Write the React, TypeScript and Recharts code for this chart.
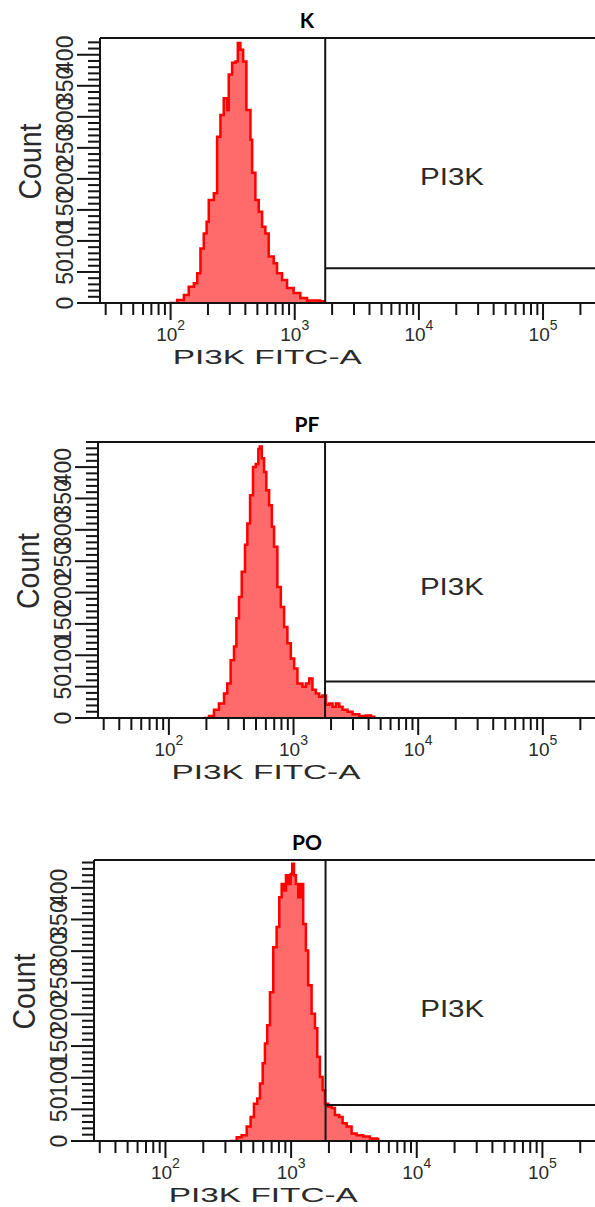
import { ComposedChart, Area, XAxis, YAxis, ReferenceLine, ReferenceArea } from "recharts";

const FONT = '"Liberation Sans", Arial, sans-serif';
const INK = "#141414";
const TEXT = "#2a2a2a";

const X_MIN = 27;
const X_MAX = 262144;
const X_TICKS = [
  30, 40, 50, 60, 70, 80, 90,
  100, 200, 300, 400, 500, 600, 700, 800, 900,
  1000, 2000, 3000, 4000, 5000, 6000, 7000, 8000, 9000,
  10000, 20000, 30000, 40000, 50000, 60000, 70000, 80000, 90000,
  100000, 200000,
];
const X_DECADES = [100, 1000, 10000, 100000];
const X_EXP = ["2", "3", "4", "5"];

const Y_TICKS = [
  0, 10, 20, 30, 40, 50, 60, 70, 80, 90, 100, 110, 120, 130, 140, 150, 160, 170, 180, 190, 200,
  210, 220, 230, 240, 250, 260, 270, 280, 290, 300, 310, 320, 330, 340, 350, 360, 370, 380, 390,
  400, 410, 420, 430, 440,
];
const Y_LABELS = [0, 50, 100, 150, 200, 250, 300, 350, 400];

const TITLES = ["K", "PF", "PO"];
const GATE_NAME = "PI3K";
const X_NAME = "PI3K FITC-A";
const Y_NAME = "Count";

// gate thresholds (FITC) and horizontal gate level (count)
const GATES = [1760, 1790, 1880];
const GATE_COUNTS = [56, 58, 57];
const Y_MAX = [427, 440, 444];

// K
const K_FITC = [97, 113, 128, 140, 154, 164, 174, 185, 195, 203, 223, 237, 252, 268, 286, 294, 313, 333, 348, 365, 384, 408, 440, 454, 482, 513, 546, 580, 617, 677, 720, 791, 867, 980, 1109, 1256, 1419, 1606, 1708];
const K_COUNT = [0, 5, 13, 26, 32, 48, 88, 112, 131, 166, 177, 268, 303, 330, 311, 368, 387, 389, 419, 408, 389, 311, 263, 210, 166, 147, 123, 112, 75, 64, 48, 37, 24, 16, 8, 4, 4, 3, 0];

// PF
const PF_FITC = [191, 210, 230, 252, 277, 294, 313, 333, 348, 365, 384, 408, 426, 448, 473, 498, 522, 536, 556, 580, 605, 637, 670, 698, 742, 791, 840, 893, 951, 1012, 1075, 1180, 1256, 1335, 1419, 1510, 1606, 1708, 1820, 1932, 2055, 2188, 2328, 2473, 2712, 2974, 3367, 3811, 4178, 4443];
const PF_COUNT = [0, 3, 13, 23, 39, 55, 92, 114, 159, 193, 233, 276, 310, 355, 400, 405, 429, 433, 414, 392, 363, 339, 305, 273, 209, 177, 145, 119, 95, 79, 55, 50, 55, 63, 45, 39, 34, 36, 21, 23, 18, 23, 18, 13, 10, 6, 3, 4, 2, 0];

// PO
const PO_FITC = [326, 369, 404, 443, 476, 506, 538, 565, 594, 619, 646, 679, 721, 767, 805, 841, 877, 910, 949, 992, 1021, 1054, 1092, 1140, 1191, 1248, 1311, 1368, 1456, 1548, 1615, 1695, 1782, 1859, 1974, 2100, 2232, 2415, 2570, 2767, 3030, 3321, 3750, 4239, 4791, 4932];
const PO_COUNT = [0, 6, 9, 23, 38, 59, 67, 91, 123, 154, 183, 235, 306, 338, 385, 406, 396, 420, 406, 422, 438, 420, 406, 385, 406, 343, 301, 246, 201, 178, 133, 101, 80, 59, 54, 52, 41, 38, 28, 23, 12, 9, 7, 4, 3, 0];

const SERIES = [
  { fitc: K_FITC, count: K_COUNT },
  { fitc: PF_FITC, count: PF_COUNT },
  { fitc: PO_FITC, count: PO_COUNT },
];

// plot box placement on the page
const LAYOUT = [
  { top: 38, left: 100, height: 265 },
  { top: 442, left: 98, height: 276 },
  { top: 860, left: 94, height: 281 },
];

const PAD = 10;
const AXIS_H = 66;

function XTick(props: any) {
  const { x, y, payload } = props;
  const i = X_DECADES.indexOf(payload.value);
  const major = i >= 0;
  return (
    <g>
      <line x1={x} x2={x} y1={y} y2={y + (major ? 17 : 12)} stroke={INK} strokeWidth={2} />
      {major && (
        <text x={x} y={y + 38} textAnchor="middle" fontFamily={FONT} fontSize={19} fill={TEXT}>
          10<tspan dy={-11} fontSize={14}>{X_EXP[i]}</tspan>
        </text>
      )}
    </g>
  );
}

function YTick(props: any) {
  const { x, y, payload } = props;
  const major = Y_LABELS.includes(payload.value);
  const tx = x - 27;
  return (
    <g>
      <line x1={x - (major ? 23 : 12)} x2={x} y1={y} y2={y} stroke={INK} strokeWidth={2} />
      {major && (
        <text x={tx} y={y} transform={`rotate(-90 ${tx} ${y})`} textAnchor="middle" fontFamily={FONT} fontSize={23} fill={TEXT}>
          {payload.value}
        </text>
      )}
    </g>
  );
}

function Histogram({ idx }: { idx: number }) {
  const { fitc, count } = SERIES[idx];
  const box = LAYOUT[idx];
  const yMax = Y_MAX[idx];
  const gate = GATES[idx];
  const gateCount = GATE_COUNTS[idx];
  const data = fitc.map((v, i) => ({ v, c: count[i] }));
  const ticks = Y_TICKS.filter((t) => t <= yMax);

  const xLabel = (p: any) => {
    const vb = p.viewBox;
    return (
      <text x={vb.x + vb.width * 0.338} y={vb.y + 61} textAnchor="middle" fontFamily={FONT} fontSize={21} fill={TEXT} textLength={189} lengthAdjust="spacingAndGlyphs">
        {X_NAME}
      </text>
    );
  };
  const yLabel = (p: any) => {
    const vb = p.viewBox;
    const tx = vb.x + vb.width - 59;
    const ty = vb.y + vb.height / 2 - 9;
    return (
      <text x={tx} y={ty} transform={`rotate(-90 ${tx} ${ty})`} textAnchor="middle" fontFamily={FONT} fontSize={31} fill={TEXT} textLength={76} lengthAdjust="spacingAndGlyphs">
        {Y_NAME}
      </text>
    );
  };
  const gateLabel = (p: any) => {
    const vb = p.viewBox;
    return (
      <text x={vb.x + vb.width * 0.47} y={vb.y + vb.height * 0.64} textAnchor="middle" fontFamily={FONT} fontSize={24} fill={TEXT} textLength={64} lengthAdjust="spacingAndGlyphs">
        {GATE_NAME}
      </text>
    );
  };

  return (
    <div style={{ position: "absolute", left: 0, top: box.top - PAD }}>
      <ComposedChart width={595} height={PAD + box.height + AXIS_H} data={data} margin={{ top: PAD, right: 0, bottom: 0, left: 0 }}>
        <XAxis
          dataKey="v"
          type="number"
          scale="log"
          domain={[X_MIN, X_MAX]}
          allowDataOverflow
          ticks={X_TICKS}
          interval={0}
          tickSize={0}
          tickMargin={0}
          tickLine={false}
          tick={<XTick />}
          height={AXIS_H}
          axisLine={{ stroke: INK, strokeWidth: 2 }}
          label={xLabel}
        />
        <YAxis
          type="number"
          domain={[0, yMax]}
          allowDataOverflow
          ticks={ticks}
          interval={0}
          tickSize={0}
          tickMargin={0}
          tickLine={false}
          tick={<YTick />}
          width={box.left}
          axisLine={{ stroke: INK, strokeWidth: 2 }}
          label={yLabel}
        />
        <Area type="stepAfter" dataKey="c" stroke="#ff0000" strokeWidth={2.5} fill="#ff6b6b" fillOpacity={1} dot={false} isAnimationActive={false} />
        <ReferenceLine y={yMax} stroke={INK} strokeWidth={2} />
        <ReferenceLine x={gate} stroke={INK} strokeWidth={2} />
        <ReferenceLine segment={[{ x: gate, y: gateCount }, { x: X_MAX, y: gateCount }]} stroke={INK} strokeWidth={2} />
        <ReferenceArea x1={gate} x2={X_MAX} y1={gateCount} y2={yMax} fill="none" fillOpacity={0} stroke="none" label={gateLabel} />
      </ComposedChart>
    </div>
  );
}

export default function App() {
  return (
    <div style={{ position: "absolute", left: 0, top: 0, width: 595, height: 1207, background: "#fff", overflow: "hidden" }}>
      {TITLES.map((_, i) => (
        <Histogram key={i} idx={i} />
      ))}
      <svg width={595} height={1207} style={{ position: "absolute", left: 0, top: 0, pointerEvents: "none" }}>
        {TITLES.map((t, i) => (
          <text key={t} x={307} y={LAYOUT[i].top - 10} textAnchor="middle" fontFamily="Lato, 'Open Sans', sans-serif" fontWeight={700} fontSize={21} fill="#000">
            {t}
          </text>
        ))}
      </svg>
    </div>
  );
}
